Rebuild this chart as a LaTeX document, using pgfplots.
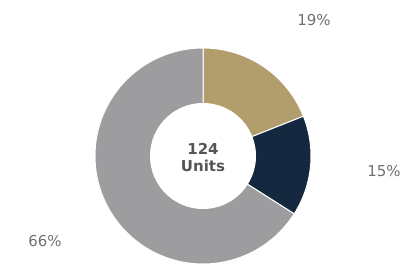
\documentclass[border=0pt]{standalone}
\usepackage{pgfplots}
\pgfplotsset{compat=1.18}
\usepackage{pgfplotstable}
\usepackage{fontspec}
\setmainfont{DejaVu Sans}
\definecolor{cgold}{HTML}{B29E6C}
\definecolor{cnavy}{HTML}{14283F}
\definecolor{cgray}{HTML}{9D9D9F}
\definecolor{ctext}{HTML}{707070}
\definecolor{ccenter}{HTML}{555555}
\pgfplotstableread{
label value
A 19
B 15
C 66
}\donutdata
\begin{document}
\begin{tikzpicture}
\pgfplotstablegetelem{0}{value}\of\donutdata \pgfmathsetmacro{\va}{\pgfplotsretval}
\pgfplotstablegetelem{1}{value}\of\donutdata \pgfmathsetmacro{\vb}{\pgfplotsretval}
\pgfplotstablegetelem{2}{value}\of\donutdata \pgfmathsetmacro{\vc}{\pgfplotsretval}
\pgfmathsetmacro{\aa}{90}
\pgfmathsetmacro{\ab}{90-3.6*\va}
\pgfmathsetmacro{\ac}{\ab-3.6*\vb}
\pgfmathsetmacro{\ad}{\ac-3.6*\vc}
\begin{axis}[
  at={(0,0)}, anchor=south west,
  width=402pt, height=265pt, scale only axis,
  xmin=0, xmax=402, ymin=0, ymax=265,
  hide axis, clip=false,
]
\addplot[fill=cgold, draw=white, line width=1pt, domain=\ab:\aa, samples=60]
  ({203+108*cos(x)},{109+108*sin(x)}) -- (axis cs:203,109) -- cycle;
\addplot[fill=cnavy, draw=white, line width=1pt, domain=\ac:\ab, samples=60]
  ({203+108*cos(x)},{109+108*sin(x)}) -- (axis cs:203,109) -- cycle;
\addplot[fill=cgray, draw=white, line width=1pt, domain=\ad:\ac, samples=120]
  ({203+108*cos(x)},{109+108*sin(x)}) -- (axis cs:203,109) -- cycle;
\addplot[fill=white, draw=none, domain=0:360, samples=120]
  ({203+53*cos(x)},{109+53*sin(x)}) -- cycle;
\node[inner sep=0pt, text=ctext, font=\fontsize{15}{18}\selectfont] at (axis cs:314,245) {19\%};
\node[inner sep=0pt, text=ctext, font=\fontsize{15}{18}\selectfont] at (axis cs:384,94) {15\%};
\node[inner sep=0pt, text=ctext, font=\fontsize{15}{18}\selectfont] at (axis cs:45,24) {66\%};
\node[inner sep=0pt, text=ccenter, font=\fontsize{15}{17}\selectfont\bfseries, align=center] at (axis cs:203,107) {124\\Units};
\end{axis}
\pgfresetboundingbox
\path (0,0) rectangle (402pt,265pt);
\end{tikzpicture}
\end{document}
